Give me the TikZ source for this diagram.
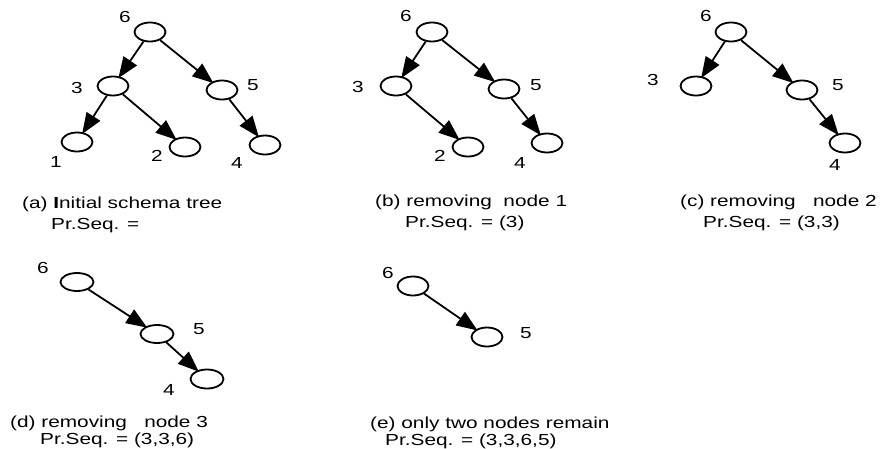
\documentclass[tikz,border=0pt]{standalone}
\usepackage{fontspec}
\usepackage{graphicx}
\setmainfont{Liberation Sans}
\usetikzlibrary{arrows.meta,shapes.geometric}
\newcommand{\hs}[1]{\scalebox{1.3}[1]{#1}}
\tikzset{
  tnode/.style={draw, line width=1.8pt, ellipse, minimum width=31pt, minimum height=19pt, inner sep=0pt},
  lbl/.style={inner sep=0pt, font=\fontsize{16}{16}\selectfont},
  captext/.style={inner sep=0pt, anchor=base west, font=\fontsize{16}{16}\selectfont},
  arr/.style={line width=1.8pt, -{Triangle[length=21pt,width=16pt]}, shorten >=-2pt}
}
\begin{document}
\begin{tikzpicture}[x=1pt,y=-1pt]
\useasboundingbox (0,0) rectangle (880,448);
% panel a
\node[tnode] (a6) at (150,32) {};
\node[tnode] (a3) at (113,86) {};
\node[tnode] (a5) at (222,90) {};
\node[tnode] (a1) at (77,142) {};
\node[tnode] (a2) at (185,147) {};
\node[tnode] (a4) at (265,145) {};
\node[lbl] (la6) at (125,17) {\hs{6}};
\node[lbl] (la3) at (77,88) {\hs{3}};
\node[lbl] (la5) at (253,85) {\hs{5}};
\node[lbl] (la1) at (56,162) {\hs{1}};
\node[lbl] (la2) at (157,156) {\hs{2}};
\node[lbl] (la4) at (237,163) {\hs{4}};
\draw[arr] (a6) -- (a3);
\draw[arr] (a6) -- (a5);
\draw[arr] (a3) -- (a1);
\draw[arr] (a3) -- (a2);
\draw[arr] (a5) -- (a4);
\node[captext] (ca1) at (22,208) {\hs{(a) \textbf{I}nitial schema tree}};
\node[captext] (ca2) at (51,229) {\hs{Pr.Seq. =}};
% panel b
\node[tnode] (b6) at (432,32) {};
\node[tnode] (b3) at (396,86) {};
\node[tnode] (b5) at (504,89) {};
\node[tnode] (b2) at (468,147) {};
\node[tnode] (b4) at (547,143) {};
\node[lbl] (lb6) at (406,16) {\hs{6}};
\node[lbl] (lb3) at (358,87) {\hs{3}};
\node[lbl] (lb5) at (536,85) {\hs{5}};
\node[lbl] (lb2) at (440,156) {\hs{2}};
\node[lbl] (lb4) at (520,163) {\hs{4}};
\draw[arr] (b6) -- (b3);
\draw[arr] (b6) -- (b5);
\draw[arr] (b3) -- (b2);
\draw[arr] (b5) -- (b4);
\node[captext] (cb1) at (375,206) {\hs{(b) removing\ \ node 1}};
\node[captext] (cb2) at (405,227) {\hs{Pr.Seq. = (3)}};
% panel c
\node[tnode] (c6) at (731,32) {};
\node[tnode] (c3) at (696,86) {};
\node[tnode] (c5) at (802,90) {};
\node[tnode] (c4) at (845,143) {};
\node[lbl] (lc6) at (706,16) {\hs{6}};
\node[lbl] (lc3) at (653,80) {\hs{3}};
\node[lbl] (lc5) at (838,85) {\hs{5}};
\node[lbl] (lc4) at (835,165) {\hs{4}};
\draw[arr] (c6) -- (c3);
\draw[arr] (c6) -- (c5);
\draw[arr] (c5) -- (c4);
\node[captext] (cc1) at (680,206) {\hs{(c) removing\ \ \ node 2}};
\node[captext] (cc2) at (703,227) {\hs{Pr.Seq. = (3,3)}};
% panel d
\node[tnode, minimum width=33pt, minimum height=18pt] (d6) at (77,282) {};
\node[tnode, minimum width=33pt, minimum height=18pt] (d5) at (157,334) {};
\node[tnode, minimum width=33pt, minimum height=19pt] (d4) at (207,379) {};
\node[lbl] (ld6) at (43,268) {\hs{6}};
\node[lbl] (ld5) at (199,329) {\hs{5}};
\node[lbl] (ld4) at (169,390) {\hs{4}};
\draw[arr] (d6) -- (d5);
\draw[arr] (d5) -- (d4);
\node[captext] (cd1) at (10,427) {\hs{(d) removing\ \ \ node 3}};
\node[captext] (cd2) at (40,444) {\hs{Pr.Seq. = (3,3,6)}};
% panel e
\node[tnode] (e6) at (413,286) {};
\node[tnode] (e5) at (487,337) {};
\node[lbl] (le6) at (388,273) {\hs{6}};
\node[lbl] (le5) at (526,333) {\hs{5}};
\draw[arr] (e6) -- (e5);
\node[captext] (ce1) at (370,428) {\hs{(e) only two nodes remain}};
\node[captext] (ce2) at (385,445) {\hs{Pr.Seq. = (3,3,6,5)}};
\end{tikzpicture}
\end{document}
